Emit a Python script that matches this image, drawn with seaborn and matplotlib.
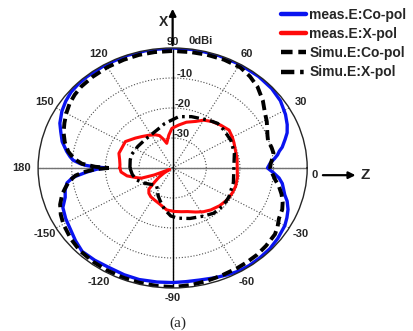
import numpy as np
import pandas as pd
import matplotlib.pyplot as plt
import seaborn as sns

# measured co-pol (blue), angle in degrees, level in dB
meas_co_ang = [-180, -179, -177, -174, -171, -167, -163, -158, -152, -147, -140, -134,
               -127, -120, -112, -105, -97, -90, -84, -78, -71, -65, -60, -55, -49, -43,
               -37, -30, -26, -22, -18, -15, -12, -9, -6, -3, 0, 3, 6, 8, 10, 12, 16, 19,
               23, 28, 35, 42, 50, 60, 70, 80, 90, 100, 110, 120, 130, 135, 140, 145, 150,
               156, 160, 165, 170, 173, 175, 177, 178, 179, 180]
meas_co_db = [-20.5, -17.5, -14.5, -10.2, -8.2, -7.2, -6.6, -4.8, -4.0, -3.5, -2.3, -1.3,
              -1.5, -1.8, -1.6, -1.5, -1.7, -1.8, -1.9, -1.8, -1.3, -0.8, -0.4, -0.3, -0.4, -0.5,
              -0.9, -1.5, -2.2, -3.0, -4.2, -5.5, -6.3, -7.0, -8.2, -10.0, -11.8, -11.0, -9.5, -8.5, -7.8, -6.7, -5.2, -4.0,
              -3.0, -2.0, -0.9, -0.4, -0.2, -0.1, -0.1, 0.0, 0.0, 0.0, -0.1, -0.2, -0.3, -0.4, -0.6, -1.2, -2.0,
              -3.3, -4.6, -6.0, -8.0, -9.3, -10.3, -12.5, -14.0, -16.5, -20.5]

# measured cross-pol (red)
meas_x_ang = [-180, -175, -169, -164, -160, -157, -154, -151, -147, -143, -139, -135, -130,
              -124, -116, -109, -103, -97, -88, -80, -73, -65, -58, -51, -42, -33, -25, -18,
              -9, 0, 9, 18, 25, 30, 37, 45, 53, 60, 66, 75, 83, 91, 96, 102, 106, 110, 115,
              123, 131, 138, 148, 156, 163, 170, 176, 180]
meas_x_db = [-24.3, -24.6, -26.2, -28.5, -30.0, -34.0, -38.5, -39.0, -37.0, -35.0, -33.0, -30.0, -29.0,
             -28.4, -28.0, -27.5, -26.8, -25.9, -25.5, -25.2, -24.8, -23.8, -22.8, -22.0, -21.2, -20.6, -20.4, -20.3,
             -20.5, -20.8, -20.6, -20.4, -19.9, -19.5, -19.0, -19.8, -20.6, -21.6, -23.0, -24.2, -25.6, -26.8, -29.0, -31.6, -30.0, -28.5, -27.8,
             -27.0, -26.1, -25.1, -23.4, -23.5, -23.3, -24.0, -24.3, -24.3]

# simulated co-pol (black dashed)
simu_co_ang = [-180, -179, -177, -175, -172, -168, -165, -160, -155, -150, -142, -135, -127,
               -120, -112, -105, -97, -90, -82, -75, -68, -60, -55, -49, -43, -36, -32, -28,
               -23, -19, -15, -11, -7.5, -4, 0, 3, 6, 9.4, 13, 18, 21, 25, 29, 33.7, 40, 47,
               53, 59, 67, 75, 82, 90, 98, 105, 112, 120, 128, 135, 140, 145, 150, 155, 160,
               165, 170, 174, 177, 179, 180]
simu_co_db = [-21.0, -17.0, -13.5, -11.0, -9.0, -7.3, -6.0, -4.4, -3.3, -2.5, -1.6, -1.0, -0.8,
              -0.7, -0.6, -0.5, -0.4, -0.3, -0.6, -1.0, -1.3, -1.5, -1.6, -1.7, -2.0, -2.4, -3.2, -4.2,
              -4.6, -5.4, -6.5, -7.8, -9.2, -10.2, -11.0, -10.8, -10.2, -9.6, -9.8, -10.2, -9.8, -9.0, -8.0, -7.0, -5.0, -3.0,
              -1.8, -0.9, -0.8, -0.9, -1.0, -1.0, -1.0, -1.0, -1.1, -1.2, -1.4, -1.6, -2.0, -2.6, -3.5, -4.5, -5.5,
              -6.8, -8.5, -10.5, -13.0, -17.0, -21.0]

# simulated cross-pol (black dash-dot)
simu_x_ang = [-180, -170, -160, -150, -140, -130, -122, -115, -109, -100, -92, -85, -73, -60,
              -51, -40, -30, -15, 0, 15, 28, 40, 48, 56, 64, 72, 84, 99, 110, 120, 131, 145,
              152, 160, 168, 180]
simu_x_db = [-27.3, -27.8, -28.5, -30.0, -31.5, -32.5, -31.5, -29.8, -28.5, -26.0, -24.0, -23.2, -22.4, -21.5,
             -20.6, -20.4, -20.7, -21.3, -21.8, -21.0, -20.4, -20.2, -20.0, -20.8, -21.6, -22.0, -22.8, -25.0, -26.5, -27.2, -27.5, -27.4,
             -27.3, -27.0, -27.1, -27.3]

theta_ticks = [0, 30, 60, 90, 120, 150, 180, -150, -120, -90, -60, -30]
r_ticks = [-30, -20, -10]

sns.set_theme(style="white")
plt.rcParams['font.family'] = ['Liberation Sans', 'DejaVu Sans']

fig = plt.figure(figsize=(4.14, 3.31), dpi=100)
ax = fig.add_axes([0.092, 0.13, 0.65, 0.725], projection='polar')
ax.set_aspect('auto')

series = [
    (meas_co_ang, meas_co_db, 'meas.E:Co-pol', '#0a14f0', '-', 2.4),
    (meas_x_ang, meas_x_db, 'meas.E:X-pol', '#ff0a0a', '-', 2.2),
    (simu_co_ang, simu_co_db, 'Simu.E:Co-pol', 'black', (0, (2.6, 1.3)), 2.8),
    (simu_x_ang, simu_x_db, 'Simu.E:X-pol', 'black', (0, (3.0, 1.3, 0.8, 1.3)), 2.4),
]
for ang, db, lab, col, ls, lw in series:
    df = pd.DataFrame({'theta': np.deg2rad(ang), 'db': db})
    sns.lineplot(data=df, x='theta', y='db', ax=ax, sort=False, estimator=None,
                 color=col, linestyle=ls, lw=lw, label=lab)

ax.set_ylim(-40, 0)
ax.set_yticks(r_ticks)
ax.set_yticklabels([])
ax.set_xticks(np.deg2rad(np.arange(0, 360, 30)))
ax.set_xticklabels([])
ax.set_xlabel('')
ax.set_ylabel('')
ax.grid(True, linestyle=':', color='0.3', lw=0.8)
ax.spines['polar'].set_color('0.15')
ax.spines['polar'].set_linewidth(1.0)

# main axis lines through the centre
ax.plot([0, 0], [-40, 0], color='0.45', lw=1.0, zorder=1)
ax.plot([np.pi, np.pi], [-40, 0], color='0.45', lw=1.0, zorder=1)
ax.plot([np.pi / 2, np.pi / 2], [-40, 0], color='black', lw=1.0, zorder=1)
ax.plot([-np.pi / 2, -np.pi / 2], [-40, 0], color='black', lw=1.0, zorder=1)

# angle labels
for a in theta_ticks:
    t = np.deg2rad(a)
    k, ha, va = 1.10, 'center', 'center'
    y_shift = 0
    if a == 0:
        k, ha, y_shift = 1.03, 'left', -0.03
    elif a == 180:
        k, ha = 1.05, 'right'
    elif a == 90:
        k, va = 1.01, 'bottom'
    elif a == -90:
        k, va = 1.04, 'top'
    ax.text(0.5 + 0.5 * k * np.cos(t), 0.5 + 0.5 * k * np.sin(t) + y_shift, str(a),
            transform=ax.transAxes, ha=ha, va=va, fontsize=8, fontweight='bold')
ax.text(0.56, 1.01, '0dBi', transform=ax.transAxes, ha='left', va='bottom',
        fontsize=8, fontweight='bold')

# radial labels
for r in r_ticks:
    frac = (r + 40) / 40
    ax.text(0.505 + 0.004 * (r + 30) / 10, 0.5 + 0.5 * frac + 0.015, str(r),
            transform=ax.transAxes, ha='left', va='center', fontsize=8, fontweight='bold')

# X and Z arrows
ax.annotate('', xy=(0.5, 1.175), xytext=(0.5, 1.0), xycoords='axes fraction',
            arrowprops=dict(arrowstyle='-|>', color='black', lw=1.6, mutation_scale=10))
ax.text(0.465, 1.11, 'X', transform=ax.transAxes, ha='center', va='center',
        fontsize=10, fontweight='bold')
ax.annotate('', xy=(1.19, 0.47), xytext=(1.048, 0.47), xycoords='axes fraction',
            arrowprops=dict(arrowstyle='-|>', color='black', lw=1.6, mutation_scale=10))
ax.text(1.215, 0.47, 'Z', transform=ax.transAxes, ha='center', va='center',
        fontsize=11, fontweight='bold')

handles, labels = ax.get_legend_handles_labels()
ax.get_legend().remove()
leg = fig.legend(handles, labels, loc='upper right', bbox_to_anchor=(1.0, 1.0), frameon=False,
                 prop={'size': 10, 'weight': 'bold'}, handlelength=1.8, handletextpad=0.2,
                 labelspacing=0.38, borderaxespad=0.15)
for line in leg.get_lines():
    line.set_linewidth(3.2)

fig.text(0.43, 0.024, '(a)', ha='center', va='center', fontsize=11, family='Liberation Serif')

plt.savefig('out.png', dpi=100)
